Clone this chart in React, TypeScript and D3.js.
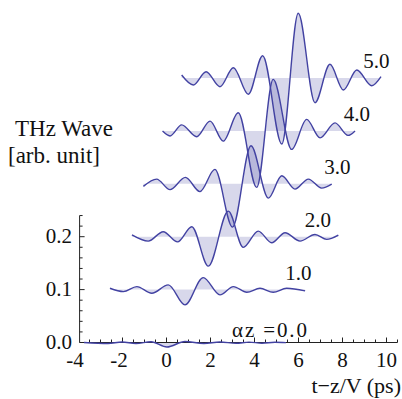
import React from "react";
import * as d3 from "d3";

// ---- data ----
const alphaZ = [0, 1, 2, 3, 4, 5];
const offsets = [0, 0.1, 0.2, 0.3, 0.4, 0.5];
const xTickLabels = [-4, -2, 0, 2, 4, 6, 8, 10];
const yTickLabels = [0, 0.1, 0.2];

// [t (ps), amplitude (arb. unit)] at extrema of each trace
const wave0: [number, number][] = [[-3.75, 0], [-2.66, -0.0019], [-2.02, 0.0009], [-1.39, -0.0019], [-0.7, 0.0013], [0.02, -0.0085], [0.84, 0.0019], [1.7, -0.0019], [2.43, 0.0009], [3.16, -0.0015], [3.75, 0.0008], [4.34, -0.0013], [4.93, 0.0004], [5.43, -0.0002]];
const wave1: [number, number][] = [[-2.57, 0.0025], [-1.96, -0.0038], [-1.35, 0.0057], [-0.67, -0.007], [0.08, 0.0089], [0.84, -0.0289], [1.67, 0.0227], [2.43, -0.01], [3.04, 0.0057], [3.65, -0.0051], [4.25, 0.0025], [4.85, -0.0051], [5.46, 0.0025], [6.3, -0.0025]];
const wave2: [number, number][] = [[-1.57, 0.0034], [-0.83, -0.0083], [-0.15, 0.0095], [0.5, -0.0098], [1.15, 0.0189], [1.9, -0.0556], [2.81, 0.0484], [3.49, -0.0202], [4.17, 0.0106], [4.78, -0.0113], [5.39, 0.0076], [6.07, -0.0083], [6.75, 0.0043], [7.28, -0.0051], [7.81, 0.003]];
const wave3: [number, number][] = [[-1.05, -0.0049], [-0.45, 0.0089], [0.16, -0.011], [0.86, 0.0121], [1.52, -0.0147], [2.2, 0.0272], [3.0, -0.0819], [3.84, 0.0718], [4.63, -0.027], [5.24, 0.0151], [5.84, -0.01], [6.45, 0.0089], [7.05, -0.0081], [7.51, -0.0006]];
const wave4: [number, number][] = [[-0.18, -0.0004], [0.16, -0.0095], [0.69, 0.0113], [1.37, -0.011], [1.98, 0.0185], [2.58, -0.0193], [3.26, 0.0344], [4.1, -0.1068], [4.85, 0.0974], [5.69, -0.035], [6.37, 0.0217], [6.98, -0.0132], [7.66, 0.0151], [8.25, -0.0085], [8.57, 0]];
const wave5: [number, number][] = [[0.69, 0.0057], [1.22, -0.0132], [1.8, 0.0119], [2.43, -0.0164], [3.04, 0.0195], [3.72, -0.0308], [4.37, 0.0422], [5.24, -0.1248], [5.99, 0.1223], [6.75, -0.0467], [7.43, 0.0259], [8.04, -0.0227], [8.65, 0.0151], [9.33, -0.0146], [9.75, 0.0025]];
const waves = [wave0, wave1, wave2, wave3, wave4, wave5];

const W = 402;
const H = 399;
const FONT = '"Times New Roman", Times, "Liberation Serif", Tinos, "DejaVu Serif", serif';
const LINE = "#4242a2";
const FILL = "#3d3d99";
const TXT = { fontFamily: FONT };

export default function App() {
  const x = d3.scaleLinear().domain([-3.95, 10.5]).range([79.6, 397.5]);
  const y = d3.scaleLinear().domain([0, 0.24]).range([342.5, 342.5 - 0.24 * 529]);

  const xMinor = d3.range(-3.5, 10.51, 0.5);
  const yMinor = d3.range(0, 0.2401, 0.02);

  const areas = waves.map((w, k) => {
    const off = offsets[k];
    return d3
      .area<[number, number]>()
      .x((d) => x(d[0]))
      .y0(y(off))
      .y1((d) => y(d[1] + off))
      .curve(d3.curveMonotoneX)(w) as string;
  });
  const lines = waves.map((w, k) => {
    const off = offsets[k];
    return d3
      .line<[number, number]>()
      .x((d) => x(d[0]))
      .y((d) => y(d[1] + off))
      .curve(d3.curveMonotoneX)(w) as string;
  });

  return (
    <svg
      width={W}
      height={H}
      style={{ position: "absolute", left: 0, top: 0, background: "#fff" }}
    >
      {/* fills */}
      {areas.map((p, i) => (
        <path key={"a" + i} d={p} fill={FILL} fillOpacity={0.2} stroke="none" />
      ))}

      {/* axes */}
      <line x1={x(-3.95)} x2={x(10.5)} y1={y(0)} y2={y(0)} stroke="#222" strokeWidth={1} />
      <line x1={x(-3.95)} x2={x(-3.95)} y1={y(0)} y2={y(0.24)} stroke="#222" strokeWidth={1} />
      {xMinor.map((t) => {
        const major = Math.abs(t % 2) < 1e-6;
        return (
          <line key={"xt" + t} x1={x(t)} x2={x(t)} y1={y(0)} y2={y(0) - (major ? 5 : 3)} stroke="#222" strokeWidth={1} />
        );
      })}
      {yMinor.map((v) => {
        const major = Math.abs((v * 10) - Math.round(v * 10)) < 1e-6;
        return (
          <line key={"yt" + v} x1={x(-3.95)} x2={x(-3.95) + (major ? 5 : 3)} y1={y(v)} y2={y(v)} stroke="#222" strokeWidth={1} />
        );
      })}
      {xTickLabels.map((t) => {
        const neg = t < 0;
        return (
          <text
            key={"xl" + t}
            x={neg ? x(t) + 5.3 : x(t)}
            y={367}
            fontSize={21}
            textAnchor={neg ? "end" : "middle"}
            fill="#111"
            style={TXT}
          >
            {neg ? "-" + String(-t) : String(t)}
          </text>
        );
      })}
      {yTickLabels.map((v) => (
        <text key={"yl" + v} x={72} y={y(v) + 6} fontSize={21} textAnchor="end" fill="#111" style={TXT}>
          {v.toFixed(1)}
        </text>
      ))}

      {/* lines */}
      {lines.map((p, i) => (
        <path key={"l" + i} d={p} fill="none" stroke={LINE} strokeWidth={1.4} />
      ))}

      {/* curve labels */}
      {alphaZ.map((a, k) =>
        k === 0 ? (
          <text key={"c" + k} x={232} y={337} fontSize={21} fill="#111" style={TXT} textLength={75} lengthAdjust="spacing">
            {"αz =" + a.toFixed(1)}
          </text>
        ) : (
          <text
            key={"c" + k}
            x={x(5.4 + 0.885 * (k - 1))}
            y={y(offsets[k]) - 10}
            fontSize={21}
            fill="#111"
            style={TXT}
          >
            {a.toFixed(1)}
          </text>
        )
      )}

      {/* titles */}
      <text x={15} y={136} fontSize={23} fill="#111" style={TXT}>THz Wave</text>
      <text x={8} y={163} fontSize={23} fill="#111" style={TXT}>[arb. unit]</text>
      <text x={401} y={393} fontSize={22} textAnchor="end" fill="#111" style={TXT}>t−z/V (ps)</text>
    </svg>
  );
}
